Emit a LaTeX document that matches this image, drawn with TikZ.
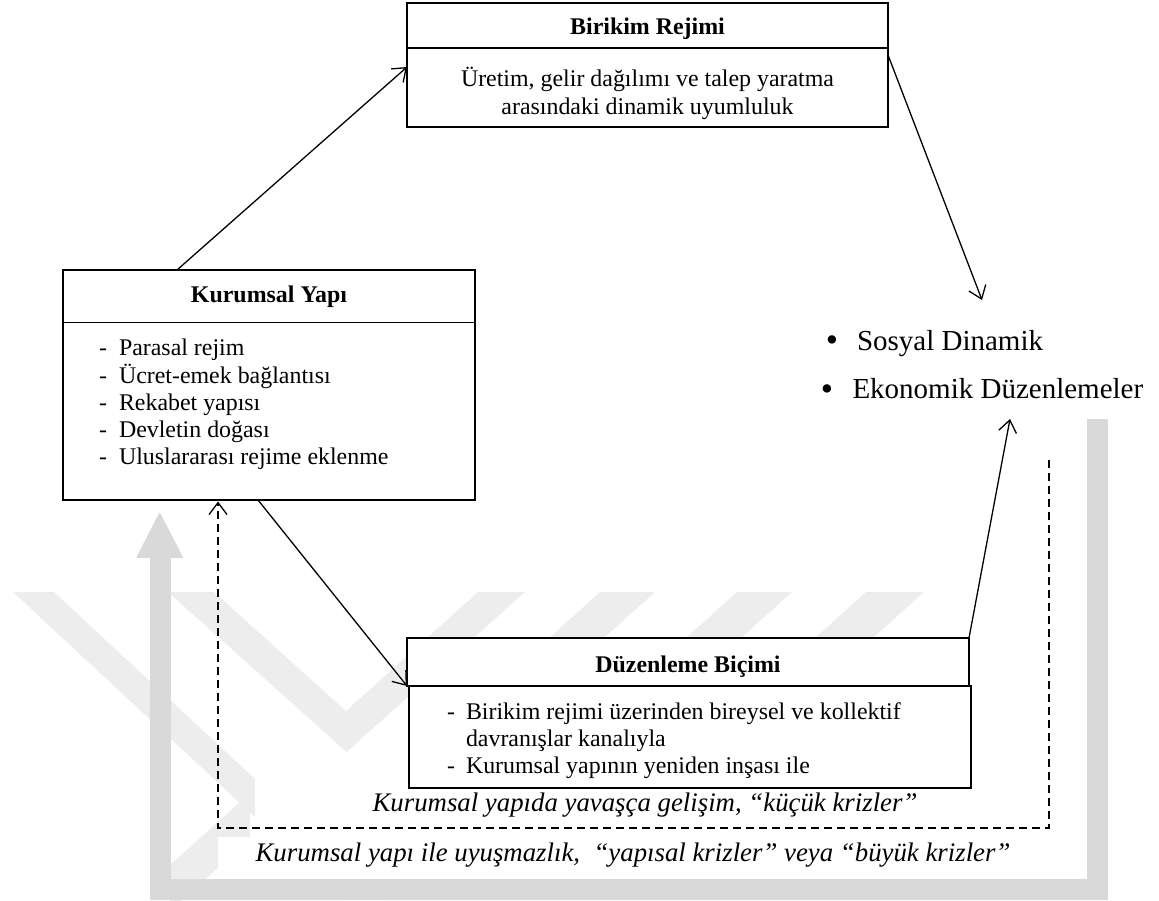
\documentclass[tikz,border=0pt]{standalone}
\usepackage{fontspec}
\setmainfont{Liberation Serif}
\usetikzlibrary{arrows.meta,calc}
\definecolor{arrowgray}{RGB}{217,217,217}
\definecolor{wmgray}{RGB}{237,237,237}
\tikzset{
  box/.style={draw=black, line width=1.5pt, fill=white, inner sep=0pt, outer sep=0pt},
  conn/.style={draw=black, line width=1.3pt, -{Straight Barb[length=12pt,width=18pt,line width=1.3pt]}},
  dconn/.style={conn, dash pattern=on 8pt off 5pt},
  txt/.style={inner sep=0pt, outer sep=0pt, anchor=base, font=\fontsize{23.9}{27.3}\selectfont},
  ltxt/.style={txt, anchor=base west},
  ttl/.style={txt, font=\fontsize{23.9}{27.3}\selectfont\bfseries},
  big/.style={inner sep=0pt, outer sep=0pt, anchor=base west, font=\fontsize{29}{30}\selectfont},
  bul/.style={inner sep=0pt, outer sep=0pt, anchor=base, font=\fontsize{35}{36}\selectfont},
  ital/.style={txt, font=\fontsize{26.8}{30}\selectfont\itshape},
}
\begin{document}
\begin{tikzpicture}[x=1pt,y=-1pt]
\useasboundingbox (0,0) rectangle (1159,901);
% faint background watermark
\fill[wmgray] (13,592) -- (54,592) -- (385,900) -- (344,900) -- cycle;
\fill[wmgray] (168,592) -- (346.5,752) -- (525,592) -- (478,592) -- (346,711) -- (214,592) -- cycle;
\fill[wmgray] (600,592) -- (655,592) -- (604,638) -- (549,638) -- cycle;
\fill[wmgray] (737,592) -- (792,592) -- (741,638) -- (686,638) -- cycle;
\fill[wmgray] (866,592) -- (924,592) -- (873,638) -- (815,638) -- cycle;
\fill[wmgray] (170,865) -- (250,793) -- (250,839) -- (170,911) -- cycle;
\fill[white] (255,778) rectangle (1086,879);
\fill[white] (218,837) rectangle (1086,879);
% large gray arrow
\coordinate (ga1) at (1097,419);
\coordinate (ga2) at (1097,889);
\coordinate (ga3) at (160,889);
\coordinate (ga4) at (160,557);
\draw[arrowgray, line width=21pt] (ga1) -- (ga2) -- (ga3) -- (ga4);
\fill[arrowgray, rounded corners=1pt] (136,558) -- (183.5,558) -- (159.7,512) -- cycle;
% boxes
\node[box, minimum width=481pt, minimum height=45pt] (brhead) at (647.5,25.5) {};
\node[box, minimum width=481pt, minimum height=79pt] (brbody) at (647.5,87.5) {};
\node[box, minimum width=412pt, minimum height=52.5pt] (kurhead) at (269,296.25) {};
\node[box, minimum width=412pt, minimum height=177.5pt] (kurbody) at (269,411.25) {};
\node[box, minimum width=562pt, minimum height=48pt] (duzhead) at (688,662) {};
\node[box, minimum width=562pt, minimum height=102pt] (duzbody) at (690,737) {};
% texts
\node[ttl] (brt) at (647.5,35) {Birikim Rejimi};
\node[txt] (br1) at (647.5,87) {Üretim, gelir dağılımı ve talep yaratma};
\node[txt] (br2) at (647.5,115) {arasındaki dinamik uyumluluk};
\node[ttl] (kurt) at (269,302) {Kurumsal Yapı};
\node[ltxt] (kd1) at (99,355.7) {-};
\node[ltxt] (kl1) at (119,355.7) {Parasal rejim};
\node[ltxt] (kd2) at (99,383) {-};
\node[ltxt] (kl2) at (119,383) {Ücret-emek bağlantısı};
\node[ltxt] (kd3) at (99,410.3) {-};
\node[ltxt] (kl3) at (119,410.3) {Rekabet yapısı};
\node[ltxt] (kd4) at (99,437.6) {-};
\node[ltxt] (kl4) at (119,437.6) {Devletin doğası};
\node[ltxt] (kd5) at (99,464.9) {-};
\node[ltxt] (kl5) at (119,464.9) {Uluslararası rejime eklenme};
\node[ttl] (duzt) at (688,672.7) {Düzenleme Biçimi};
\node[ltxt] (dd1) at (447,719) {-};
\node[ltxt] (dl1) at (466,719) {Birikim rejimi üzerinden bireysel ve kollektif};
\node[ltxt] (dl2) at (466,746) {davranışlar kanalıyla};
\node[ltxt] (dd3) at (447,773) {-};
\node[ltxt] (dl3) at (466,773) {Kurumsal yapının yeniden inşası ile};
\node[bul] (b1) at (832,351) {•};
\node[big] (sos) at (857,350) {Sosyal Dinamik};
\node[bul] (b2) at (827,400) {•};
\node[big] (eko) at (852.5,398) {Ekonomik Düzenlemeler};
\node[ital] (it1) at (645,811.7) {Kurumsal yapıda yavaşça gelişim, “küçük krizler”};
\node[ital] (it2) at (633,861.7) {Kurumsal yapı ile uyuşmazlık,~ “yapısal krizler” veya “büyük krizler”};
% connectors
\coordinate (sosin) at (982,300);
\coordinate (ekoin) at (1010,419);
\coordinate (dstart) at (1049,460);
\coordinate (dbr) at (1049,828);
\coordinate (dbl) at (218,828);
\draw[conn] ($(kurhead.north west)+(114,0)$) -- ($(brbody.north west)+(0,19)$);
\draw[conn] ($(brbody.north east)+(0,7)$) -- (sosin);
\draw[conn] ($(kurbody.south west)+(195,0)$) -- (duzhead.south west);
\draw[conn] (duzhead.north east) -- (ekoin);
\draw[dconn] (dstart) -- (dbr) -- (dbl) -- ($(kurbody.south west)+(155,1.5)$);
\end{tikzpicture}
\end{document}
